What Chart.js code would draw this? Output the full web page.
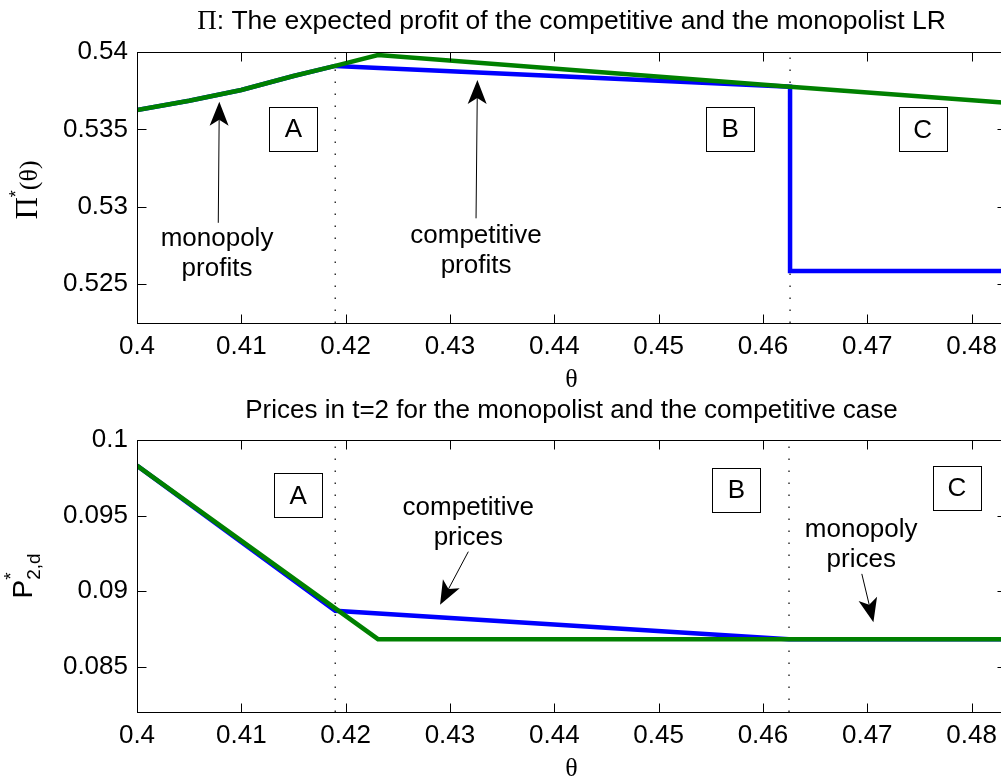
<!DOCTYPE html>
<html>
<head>
<meta charset="utf-8">
<script src="https://cdn.jsdelivr.net/npm/chart.js@4.4.0/dist/chart.umd.min.js"></script>
<style>
  html, body { margin: 0; padding: 0; background: #fff; overflow: hidden; width: 1001px; height: 781px; }
  .panel { position: absolute; left: 0; }
</style>
</head>
<body>
<div class="panel" style="top:0"><canvas id="profit-chart" width="1010" height="390"></canvas></div>
<div class="panel" style="top:390px"><canvas id="price-chart" width="1010" height="391"></canvas></div>
<script>
// theta axis
const xTicks = [0.4, 0.41, 0.42, 0.43, 0.44, 0.45, 0.46, 0.47, 0.48];
const xTickLabels = ["0.4", "0.41", "0.42", "0.43", "0.44", "0.45", "0.46", "0.47", "0.48"];

// upper panel: expected profits
const profitTicks = [0.525, 0.53, 0.535, 0.54];
const profitTickLabels = ["0.525", "0.53", "0.535", "0.54"];
const profitThetaComp = [0.4, 0.405, 0.41, 0.415, 0.419, 0.4626, 0.4626, 0.4833];
const profitComp = [0.53625, 0.53685, 0.53755, 0.53845, 0.5391, 0.53776, 0.52585, 0.52585];
const profitThetaMono = [0.4, 0.405, 0.41, 0.415, 0.419, 0.4231, 0.4626, 0.4833];
const profitMono = [0.53625, 0.53685, 0.53755, 0.53845, 0.5391, 0.5398, 0.53776, 0.53673];
const profitBounds = [0.419, 0.4626];

// lower panel: prices in t=2
const priceTicks = [0.085, 0.09, 0.095, 0.1];
const priceTickLabels = ["0.085", "0.09", "0.095", "0.1"];
const priceThetaComp = [0.4, 0.419, 0.4625, 0.4833];
const priceComp = [0.0983, 0.0887, 0.08682, 0.08682];
const priceThetaMono = [0.4, 0.4231, 0.4833];
const priceMono = [0.0983, 0.08682, 0.08682];
const priceBounds = [0.419, 0.4625];

const SANS = '"Liberation Sans", Arial, Helvetica, sans-serif';
const SERIF = '"Liberation Serif", "Times New Roman", serif';

function toPoints(xs, ys) {
  return xs.map((x, i) => ({ x: x, y: ys[i] }));
}

function drawArrow(ctx, x1, y1, x2, y2) {
  const ang = Math.atan2(y2 - y1, x2 - x1);
  const len = 24, half = 9.5, notch = 18;
  ctx.beginPath();
  ctx.moveTo(x1, y1);
  ctx.lineTo(x2 - Math.cos(ang) * notch, y2 - Math.sin(ang) * notch);
  ctx.stroke();
  ctx.save();
  ctx.translate(x2, y2);
  ctx.rotate(ang);
  ctx.beginPath();
  ctx.moveTo(0, 0);
  ctx.lineTo(-len, -half);
  ctx.lineTo(-notch, 0);
  ctx.lineTo(-len, half);
  ctx.closePath();
  ctx.fill();
  ctx.restore();
}

// draws pieces of text one after another, centred on 0
// parts with keep:true do not move the pen (super/subscript stacking)
function drawRich(ctx, parts) {
  ctx.textAlign = "left";
  let total = 0;
  parts.forEach((p) => {
    ctx.font = p.font;
    p.w = ctx.measureText(p.t).width;
    if (!p.keep) total += p.w;
  });
  let x = -total / 2;
  parts.forEach((p) => {
    ctx.font = p.font;
    ctx.fillText(p.t, x, p.dy || 0);
    if (!p.keep) x += p.w;
  });
}

// axes frame, inward ticks, titles and annotations
const matlabAxes = {
  id: "matlabAxes",
  afterDraw(chart, args, o) {
    const ctx = chart.ctx;
    const a = chart.chartArea;
    const xs = chart.scales.x, ys = chart.scales.y;
    const L = Math.round(a.left) + 0.5, R = Math.round(a.right) + 0.5;
    const T = Math.round(a.top) + 0.5, B = Math.round(a.bottom) + 0.5;
    ctx.save();
    ctx.strokeStyle = "#000";
    ctx.fillStyle = "#000";
    ctx.lineWidth = 1;
    ctx.strokeRect(L, T, R - L, B - T);
    const tl = 9;
    ctx.beginPath();
    xTicks.forEach((v) => {
      const px = Math.round(xs.getPixelForValue(v)) + 0.5;
      ctx.moveTo(px, B); ctx.lineTo(px, B - tl);
      ctx.moveTo(px, T); ctx.lineTo(px, T + tl);
    });
    o.yTicks.forEach((v) => {
      const py = Math.round(ys.getPixelForValue(v)) + 0.5;
      ctx.moveTo(L, py); ctx.lineTo(L + tl, py);
      ctx.moveTo(R, py); ctx.lineTo(R - tl, py);
    });
    ctx.stroke();

    const cx = (a.left + a.right) / 2;
    ctx.textBaseline = "alphabetic";
    // title
    ctx.save();
    ctx.translate(cx, o.titleY);
    drawRich(ctx, o.titleParts);
    ctx.restore();
    // x label
    ctx.textAlign = "center";
    ctx.font = "26px " + SERIF;
    ctx.fillText("\u03b8", cx, o.xLabelY);
    // y label
    ctx.save();
    ctx.translate(o.yLabelX, o.yLabelY);
    ctx.rotate(-Math.PI / 2);
    drawRich(ctx, o.yLabelParts);
    ctx.restore();

    // region boxes
    ctx.textAlign = "center";
    ctx.textBaseline = "middle";
    o.boxes.forEach((b) => {
      const bx = xs.getPixelForValue(b.x), by = ys.getPixelForValue(b.y);
      const w = 48, h = 44;
      const l = Math.round(bx - w / 2) + 0.5, t = Math.round(by - h / 2) + 0.5;
      ctx.fillStyle = "#fff";
      ctx.fillRect(l, t, w, h);
      ctx.strokeRect(l, t, w, h);
      ctx.fillStyle = "#000";
      ctx.font = "26px " + SANS;
      ctx.fillText(b.label, bx, by + 1);
    });

    // text notes with arrows
    ctx.textBaseline = "alphabetic";
    ctx.font = "26px " + SANS;
    o.notes.forEach((n) => {
      const nx = xs.getPixelForValue(n.x);
      n.lines.forEach((s, i) => {
        ctx.fillText(s, nx, ys.getPixelForValue(n.y) + i * 30);
      });
      drawArrow(ctx,
        xs.getPixelForValue(n.from[0]), ys.getPixelForValue(n.from[1]),
        xs.getPixelForValue(n.to[0]), ys.getPixelForValue(n.to[1]));
    });
    ctx.restore();
  },
};

function makePanel(id, cfg) {
  const canvas = document.getElementById(id);
  return new Chart(canvas.getContext("2d"), {
    type: "line",
    data: {
      datasets: [
        {
          label: "monopoly",
          data: toPoints(cfg.monoX, cfg.monoY),
          borderColor: "#008000",
          borderWidth: 4.5,
          order: 1,
        },
        {
          label: "competitive",
          data: toPoints(cfg.compX, cfg.compY),
          borderColor: "#0000ff",
          borderWidth: 4.5,
          order: 2,
        },
        {
          label: "bound A/B",
          data: [{ x: cfg.bounds[0], y: cfg.yMin }, { x: cfg.bounds[0], y: cfg.yMax }],
          borderColor: "#000",
          borderWidth: 1.2,
          borderDash: [1.5, 10.5],
          order: 3,
        },
        {
          label: "bound B/C",
          data: [{ x: cfg.bounds[1], y: cfg.yMin }, { x: cfg.bounds[1], y: cfg.yMax }],
          borderColor: "#000",
          borderWidth: 1.2,
          borderDash: [1.5, 10.5],
          order: 3,
        },
      ],
    },
    options: {
      responsive: false,
      animation: false,
      events: [],
      parsing: false,
      elements: { point: { radius: 0 }, line: { tension: 0, fill: false, borderCapStyle: "butt" } },
      layout: { padding: { top: cfg.top, right: 4, left: 0, bottom: 0 } },
      plugins: {
        legend: { display: false },
        tooltip: { enabled: false },
        matlabAxes: cfg.axes,
      },
      scales: {
        x: {
          type: "linear",
          position: "bottom",
          min: 0.4,
          max: 0.4833,
          grid: { display: false, drawTicks: false },
          border: { display: false },
          afterBuildTicks: (axis) => { axis.ticks = xTicks.map((v) => ({ value: v })); },
          afterFit: (s) => { s.height = cfg.bottom; },
          ticks: {
            autoSkip: false,
            maxRotation: 0,
            padding: 8,
            color: "#000",
            font: { family: SANS, size: 26 },
            callback: (v) => xTickLabels[xTicks.findIndex((t) => Math.abs(t - v) < 1e-9)],
          },
        },
        y: {
          type: "linear",
          min: cfg.yMin,
          max: cfg.yMax,
          grid: { display: false, drawTicks: false },
          border: { display: false },
          afterBuildTicks: (axis) => { axis.ticks = cfg.yTicks.map((v) => ({ value: v })); },
          afterFit: (s) => { s.width = 137; },
          ticks: {
            padding: 9,
            color: "#000",
            font: { family: SANS, size: 26 },
            callback: (v) => cfg.yTickLabels[cfg.yTicks.findIndex((t) => Math.abs(t - v) < 1e-9)],
          },
        },
      },
    },
    plugins: [matlabAxes],
  });
}

makePanel("profit-chart", {
  monoX: profitThetaMono, monoY: profitMono,
  compX: profitThetaComp, compY: profitComp,
  bounds: profitBounds,
  yMin: 0.5225, yMax: 0.54,
  yTicks: profitTicks, yTickLabels: profitTickLabels,
  top: 52, bottom: 67,
  axes: {
    yTicks: profitTicks,
    titleY: 29,
    titleParts: [
      { t: "\u03a0", font: "27px " + SERIF },
      { t: ": The expected profit of the competitive and the monopolist LR", font: "26.5px " + SANS },
    ],
    xLabelY: 387,
    yLabelX: 37, yLabelY: 190,
    yLabelParts: [
      { t: "\u03a0", font: "31px " + SERIF },
      { t: "*", font: "18px " + SANS, dy: -15 },
      { t: "(\u03b8)", font: "26px " + SERIF },
    ],
    boxes: [
      { label: "A", x: 0.415, y: 0.53505 },
      { label: "B", x: 0.45687, y: 0.53501 },
      { label: "C", x: 0.47531, y: 0.535 },
    ],
    notes: [
      { lines: ["monopoly", "profits"], x: 0.40767, y: 0.52747, from: [0.40779, 0.52897], to: [0.40789, 0.53679] },
      { lines: ["competitive", "profits"], x: 0.4325, y: 0.52764, from: [0.4325, 0.52926], to: [0.43263, 0.53819] },
    ],
  },
});

makePanel("price-chart", {
  monoX: priceThetaMono, monoY: priceMono,
  compX: priceThetaComp, compY: priceComp,
  bounds: priceBounds,
  yMin: 0.082, yMax: 0.1,
  yTicks: priceTicks, yTickLabels: priceTickLabels,
  top: 50, bottom: 69,
  axes: {
    yTicks: priceTicks,
    titleY: 28,
    titleParts: [
      { t: "Prices in t=2 for the monopolist and the competitive case", font: "26px " + SANS },
    ],
    xLabelY: 386,
    yLabelX: 32, yLabelY: 186,
    yLabelParts: [
      { t: "P", font: "28px " + SANS },
      { t: "*", font: "19px " + SANS, dy: -15, keep: true },
      { t: "2,d", font: "19px " + SANS, dy: 8 },
    ],
    boxes: [
      { label: "A", x: 0.41545, y: 0.09633 },
      { label: "B", x: 0.45746, y: 0.09671 },
      { label: "C", x: 0.4786, y: 0.09682 },
    ],
    notes: [
      { lines: ["competitive", "prices"], x: 0.43176, y: 0.09504, from: [0.43176, 0.09261], to: [0.42905, 0.08909] },
      { lines: ["monopoly", "prices"], x: 0.46942, y: 0.0936, from: [0.46948, 0.09114], to: [0.47059, 0.08794] },
    ],
  },
});
</script>
</body>
</html>
